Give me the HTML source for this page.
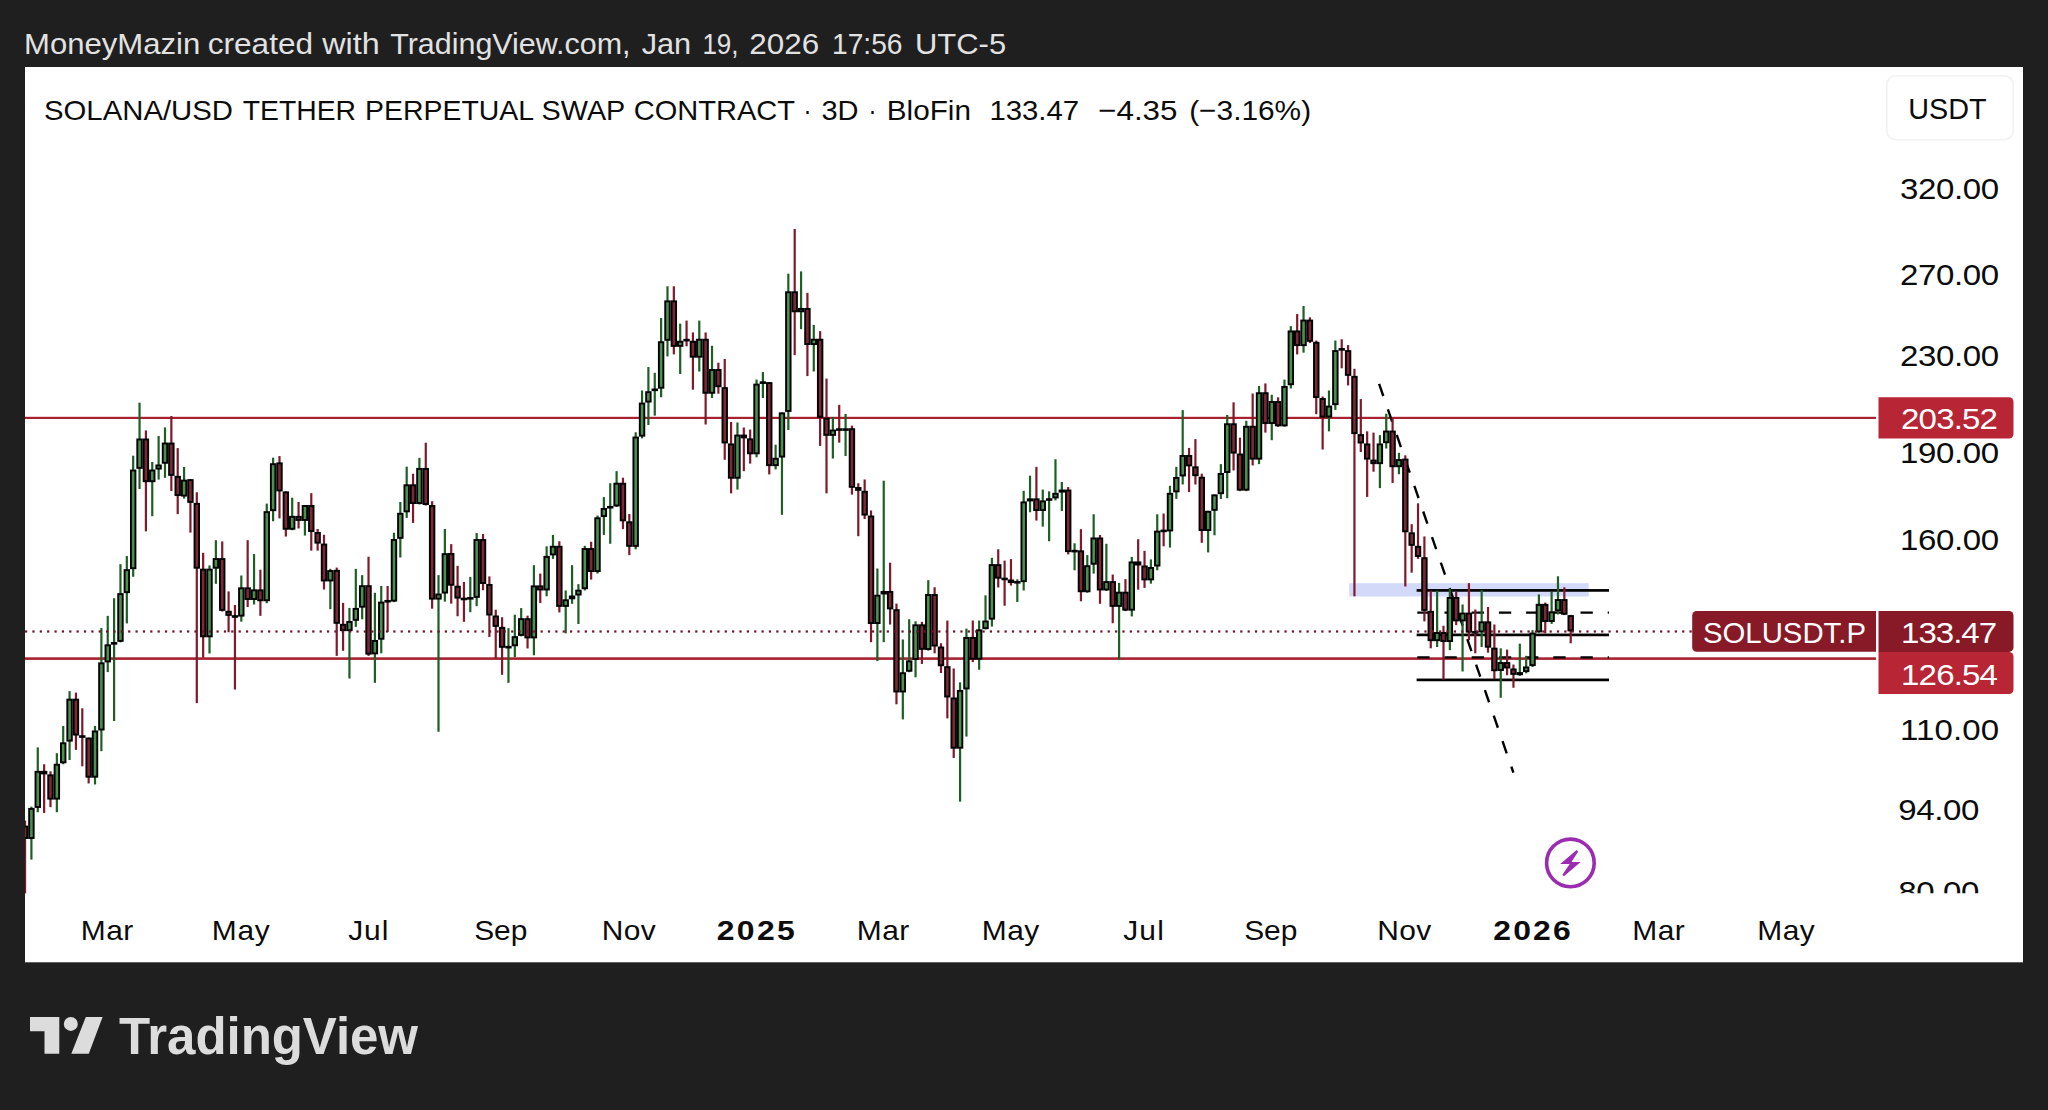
<!DOCTYPE html>
<html lang="en"><head><meta charset="utf-8"><title>SOLUSDT.P chart</title>
<style>html,body{margin:0;padding:0;background:#1f1f1f;}body{width:2048px;height:1110px;overflow:hidden;position:relative;font-family:"Liberation Sans",sans-serif;}svg{position:absolute;left:0;top:0;display:block;}text{font-family:"Liberation Sans",sans-serif;}</style>
</head><body>
<svg width="2048" height="1110" viewBox="0 0 2048 1110">
<defs><clipPath id="pane"><rect x="25" y="67" width="1998" height="826.5"/></clipPath>
<clipPath id="axis"><rect x="1878" y="67" width="145" height="826.3"/></clipPath></defs>
<rect x="0" y="0" width="2048" height="1110" fill="#1f1f1f"/>
<rect x="25" y="67" width="1998" height="895.3" fill="#ffffff"/>
<text y="54.3" font-size="29" fill="#e2e2e2">
<tspan x="24" textLength="176.2" lengthAdjust="spacingAndGlyphs">MoneyMazin</tspan> <tspan x="207.8" textLength="105.2" lengthAdjust="spacingAndGlyphs">created</tspan> <tspan x="322.3" textLength="57.4" lengthAdjust="spacingAndGlyphs">with</tspan> <tspan x="390.2" textLength="240.4" lengthAdjust="spacingAndGlyphs">TradingView.com,</tspan> <tspan x="641.7" textLength="49.5" lengthAdjust="spacingAndGlyphs">Jan</tspan> <tspan x="702.4" textLength="36.2" lengthAdjust="spacingAndGlyphs">19,</tspan> <tspan x="749.3" textLength="69.9" lengthAdjust="spacingAndGlyphs">2026</tspan> <tspan x="832" textLength="70.5" lengthAdjust="spacingAndGlyphs">17:56</tspan> <tspan x="915" textLength="91.1" lengthAdjust="spacingAndGlyphs">UTC-5</tspan>
</text>
<text y="120" font-size="28.5" fill="#0c0c0c">
<tspan x="44" textLength="189" lengthAdjust="spacingAndGlyphs">SOLANA/USD</tspan> <tspan x="242.8" textLength="113.2" lengthAdjust="spacingAndGlyphs">TETHER</tspan> <tspan x="365" textLength="168" lengthAdjust="spacingAndGlyphs">PERPETUAL</tspan> <tspan x="541.6" textLength="83.2" lengthAdjust="spacingAndGlyphs">SWAP</tspan> <tspan x="633.8" textLength="160.7" lengthAdjust="spacingAndGlyphs">CONTRACT</tspan> <tspan x="803.5" textLength="8" lengthAdjust="spacingAndGlyphs">·</tspan> <tspan x="821.4" textLength="37.1" lengthAdjust="spacingAndGlyphs">3D</tspan> <tspan x="868.5" textLength="8" lengthAdjust="spacingAndGlyphs">·</tspan> <tspan x="886.8" textLength="84.2" lengthAdjust="spacingAndGlyphs">BloFin</tspan> <tspan x="989.4" textLength="89.7" lengthAdjust="spacingAndGlyphs">133.47</tspan> <tspan x="1098.2" textLength="79.3" lengthAdjust="spacingAndGlyphs">−4.35</tspan> <tspan x="1189.2" textLength="121.9" lengthAdjust="spacingAndGlyphs">(−3.16%)</tspan>
</text>
<rect x="1886.8" y="75.8" width="126.5" height="64" rx="9" ry="9" fill="#ffffff" stroke="#f0f1f3" stroke-width="1.6"/>
<g font-size="29" fill="#0c0c0c">
<text transform="translate(1908.3,119.3) scale(1,1)" textLength="78.3" lengthAdjust="spacingAndGlyphs">USDT</text>
</g>
<g clip-path="url(#pane)">
<rect x="1349.2" y="583.2" width="239.5" height="13.3" fill="#d3daf9"/>
<rect x="25" y="416.8" width="1851" height="2.2" fill="#a8212f"/>
<rect x="25" y="657.3" width="1851" height="2.6" fill="#a8212f"/>
<rect x="1416.6" y="589.05" width="192.4" height="2.7" fill="#000"/>
<rect x="1416.6" y="633.55" width="192.4" height="2.7" fill="#000"/>
<rect x="1416.6" y="678.55" width="192.4" height="2.7" fill="#000"/>
<line x1="1417.3" y1="612.6" x2="1609" y2="612.6" stroke="#000" stroke-width="2.4" stroke-dasharray="12.3 14.9"/>
<line x1="1417.3" y1="657.4" x2="1609" y2="657.4" stroke="#000" stroke-width="2.4" stroke-dasharray="12.3 14.9"/>
<line x1="1379.1" y1="383.9" x2="1513.4" y2="772.6" stroke="#000" stroke-width="2.4" stroke-dasharray="12.8 14.2"/>
<g><rect x="23.95" y="820.54" width="2.2" height="73.15" fill="#80192b"/><rect x="30.31" y="806.67" width="2.2" height="52.97" fill="#1c6024"/><rect x="36.67" y="747.39" width="2.2" height="64.83" fill="#1c6024"/><rect x="43.03" y="764.29" width="2.2" height="48.68" fill="#80192b"/><rect x="49.39" y="771.35" width="2.2" height="35.82" fill="#80192b"/><rect x="55.75" y="753.19" width="2.2" height="59.03" fill="#1c6024"/><rect x="62.11" y="725.95" width="2.2" height="38.34" fill="#1c6024"/><rect x="68.47" y="691.14" width="2.2" height="68.86" fill="#1c6024"/><rect x="74.84" y="692.65" width="2.2" height="57.26" fill="#80192b"/><rect x="81.2" y="708.29" width="2.2" height="58.02" fill="#80192b"/><rect x="87.56" y="737.55" width="2.2" height="45.91" fill="#80192b"/><rect x="93.92" y="725.95" width="2.2" height="58.52" fill="#1c6024"/><rect x="100.28" y="628.07" width="2.2" height="123.1" fill="#1c6024"/><rect x="106.64" y="615.86" width="2.2" height="56.25" fill="#1c6024"/><rect x="113" y="598.2" width="2.2" height="122.85" fill="#1c6024"/><rect x="119.36" y="564.14" width="2.2" height="78.2" fill="#1c6024"/><rect x="125.72" y="556.07" width="2.2" height="67.35" fill="#1c6024"/><rect x="132.08" y="455.68" width="2.2" height="121.08" fill="#1c6024"/><rect x="138.44" y="402.7" width="2.2" height="86.27" fill="#1c6024"/><rect x="144.8" y="430.45" width="2.2" height="100.9" fill="#80192b"/><rect x="151.16" y="461.98" width="2.2" height="54.23" fill="#1c6024"/><rect x="157.52" y="436" width="2.2" height="43.64" fill="#1c6024"/><rect x="163.89" y="427.42" width="2.2" height="50.45" fill="#1c6024"/><rect x="170.25" y="416.07" width="2.2" height="74.92" fill="#80192b"/><rect x="176.61" y="448.11" width="2.2" height="66.09" fill="#80192b"/><rect x="182.97" y="467.03" width="2.2" height="31.53" fill="#1c6024"/><rect x="189.33" y="479.14" width="2.2" height="53.48" fill="#80192b"/><rect x="195.69" y="492.25" width="2.2" height="210.88" fill="#80192b"/><rect x="202.05" y="552.79" width="2.2" height="104.94" fill="#80192b"/><rect x="208.41" y="565.41" width="2.2" height="88.04" fill="#1c6024"/><rect x="214.77" y="540.18" width="2.2" height="43.64" fill="#1c6024"/><rect x="221.13" y="541.44" width="2.2" height="70.13" fill="#80192b"/><rect x="227.49" y="591.39" width="2.2" height="40.86" fill="#80192b"/><rect x="233.85" y="605.01" width="2.2" height="84.5" fill="#80192b"/><rect x="240.21" y="575.5" width="2.2" height="46.16" fill="#1c6024"/><rect x="246.57" y="540.18" width="2.2" height="66.85" fill="#80192b"/><rect x="252.94" y="554.05" width="2.2" height="50.45" fill="#1c6024"/><rect x="259.3" y="569.69" width="2.2" height="46.16" fill="#80192b"/><rect x="265.66" y="503.6" width="2.2" height="99.64" fill="#1c6024"/><rect x="272.02" y="457.69" width="2.2" height="63.57" fill="#1c6024"/><rect x="278.38" y="456.07" width="2.2" height="62.31" fill="#80192b"/><rect x="284.74" y="491.39" width="2.2" height="45.15" fill="#80192b"/><rect x="291.1" y="497.69" width="2.2" height="32.54" fill="#1c6024"/><rect x="297.46" y="501.98" width="2.2" height="26.49" fill="#80192b"/><rect x="303.82" y="505.01" width="2.2" height="30.52" fill="#1c6024"/><rect x="310.18" y="493.15" width="2.2" height="57.51" fill="#80192b"/><rect x="316.54" y="528.97" width="2.2" height="21.69" fill="#80192b"/><rect x="322.9" y="534.77" width="2.2" height="54.74" fill="#80192b"/><rect x="329.26" y="568.83" width="2.2" height="40.36" fill="#1c6024"/><rect x="335.62" y="567.57" width="2.2" height="88.29" fill="#80192b"/><rect x="341.98" y="602.88" width="2.2" height="47.93" fill="#80192b"/><rect x="348.35" y="607.93" width="2.2" height="70.63" fill="#1c6024"/><rect x="354.71" y="568.83" width="2.2" height="58.02" fill="#1c6024"/><rect x="361.07" y="575.14" width="2.2" height="44.14" fill="#1c6024"/><rect x="367.43" y="556.72" width="2.2" height="99.14" fill="#80192b"/><rect x="373.79" y="592.79" width="2.2" height="90.05" fill="#1c6024"/><rect x="380.15" y="585.98" width="2.2" height="67.35" fill="#1c6024"/><rect x="386.51" y="585.98" width="2.2" height="45.91" fill="#80192b"/><rect x="392.87" y="532.76" width="2.2" height="69.37" fill="#1c6024"/><rect x="399.23" y="501.98" width="2.2" height="55.5" fill="#1c6024"/><rect x="405.59" y="466.67" width="2.2" height="51.21" fill="#1c6024"/><rect x="411.95" y="473.73" width="2.2" height="49.19" fill="#80192b"/><rect x="418.31" y="457.84" width="2.2" height="46.67" fill="#1c6024"/><rect x="424.67" y="442.7" width="2.2" height="62.81" fill="#80192b"/><rect x="431.03" y="501.23" width="2.2" height="107.46" fill="#80192b"/><rect x="437.4" y="575.14" width="2.2" height="156.65" fill="#1c6024"/><rect x="443.76" y="528.97" width="2.2" height="72.65" fill="#1c6024"/><rect x="450.12" y="544.11" width="2.2" height="59.53" fill="#80192b"/><rect x="456.48" y="565.8" width="2.2" height="50.45" fill="#80192b"/><rect x="462.84" y="581.95" width="2.2" height="39.86" fill="#80192b"/><rect x="469.2" y="576.9" width="2.2" height="35.32" fill="#1c6024"/><rect x="475.56" y="533.01" width="2.2" height="73.15" fill="#1c6024"/><rect x="481.92" y="534.02" width="2.2" height="56.25" fill="#80192b"/><rect x="488.28" y="576.4" width="2.2" height="60.54" fill="#80192b"/><rect x="494.64" y="609.69" width="2.2" height="48.68" fill="#80192b"/><rect x="501" y="617.26" width="2.2" height="57.51" fill="#80192b"/><rect x="507.36" y="628.11" width="2.2" height="54.74" fill="#1c6024"/><rect x="513.72" y="614.74" width="2.2" height="42.38" fill="#1c6024"/><rect x="520.08" y="608.11" width="2.2" height="28.25" fill="#1c6024"/><rect x="526.45" y="615.68" width="2.2" height="32.79" fill="#80192b"/><rect x="532.81" y="565.23" width="2.2" height="90.05" fill="#1c6024"/><rect x="539.17" y="573.55" width="2.2" height="29.51" fill="#80192b"/><rect x="545.53" y="546.31" width="2.2" height="49.95" fill="#1c6024"/><rect x="551.89" y="534.95" width="2.2" height="23.96" fill="#1c6024"/><rect x="558.25" y="541.26" width="2.2" height="71.14" fill="#80192b"/><rect x="564.61" y="590.45" width="2.2" height="42.88" fill="#1c6024"/><rect x="570.97" y="565.23" width="2.2" height="38.59" fill="#1c6024"/><rect x="577.33" y="584.14" width="2.2" height="39.86" fill="#1c6024"/><rect x="583.69" y="545.8" width="2.2" height="44.65" fill="#1c6024"/><rect x="590.05" y="541.77" width="2.2" height="37.84" fill="#80192b"/><rect x="596.41" y="515.53" width="2.2" height="58.02" fill="#1c6024"/><rect x="602.77" y="497.12" width="2.2" height="37.84" fill="#1c6024"/><rect x="609.13" y="483.24" width="2.2" height="60.54" fill="#1c6024"/><rect x="615.5" y="471.14" width="2.2" height="35.82" fill="#1c6024"/><rect x="621.86" y="477.69" width="2.2" height="51.46" fill="#80192b"/><rect x="628.22" y="514.02" width="2.2" height="41.12" fill="#80192b"/><rect x="634.58" y="432.29" width="2.2" height="117.05" fill="#1c6024"/><rect x="640.94" y="390.45" width="2.2" height="47.93" fill="#1c6024"/><rect x="647.3" y="366.99" width="2.2" height="58.02" fill="#1c6024"/><rect x="653.66" y="372.79" width="2.2" height="42.88" fill="#1c6024"/><rect x="660.02" y="318.05" width="2.2" height="79.21" fill="#1c6024"/><rect x="666.38" y="286.27" width="2.2" height="70.13" fill="#1c6024"/><rect x="672.74" y="286.27" width="2.2" height="68.11" fill="#80192b"/><rect x="679.1" y="323.6" width="2.2" height="50.45" fill="#1c6024"/><rect x="685.46" y="320.58" width="2.2" height="25.73" fill="#80192b"/><rect x="691.82" y="332.43" width="2.2" height="57.26" fill="#80192b"/><rect x="698.18" y="320.58" width="2.2" height="50.95" fill="#1c6024"/><rect x="704.54" y="332.43" width="2.2" height="92.07" fill="#80192b"/><rect x="710.91" y="345.8" width="2.2" height="52.22" fill="#1c6024"/><rect x="717.27" y="362.7" width="2.2" height="31.03" fill="#80192b"/><rect x="723.63" y="358.92" width="2.2" height="100.9" fill="#80192b"/><rect x="729.99" y="421.98" width="2.2" height="71.39" fill="#80192b"/><rect x="736.35" y="422.49" width="2.2" height="67.1" fill="#1c6024"/><rect x="742.71" y="427.53" width="2.2" height="43.64" fill="#80192b"/><rect x="749.07" y="429.55" width="2.2" height="34.05" fill="#80192b"/><rect x="755.43" y="379.6" width="2.2" height="77.69" fill="#1c6024"/><rect x="761.79" y="372.04" width="2.2" height="25.98" fill="#1c6024"/><rect x="768.15" y="382.13" width="2.2" height="92.32" fill="#80192b"/><rect x="774.51" y="444.68" width="2.2" height="24.72" fill="#1c6024"/><rect x="780.87" y="412.4" width="2.2" height="102.41" fill="#1c6024"/><rect x="787.23" y="273.66" width="2.2" height="156.4" fill="#1c6024"/><rect x="793.59" y="229.01" width="2.2" height="126.13" fill="#80192b"/><rect x="799.96" y="271.39" width="2.2" height="57.77" fill="#1c6024"/><rect x="806.32" y="292.83" width="2.2" height="83.24" fill="#80192b"/><rect x="812.68" y="324.86" width="2.2" height="46.67" fill="#1c6024"/><rect x="819.04" y="331.17" width="2.2" height="114.77" fill="#80192b"/><rect x="825.4" y="378.59" width="2.2" height="114.77" fill="#80192b"/><rect x="831.76" y="416.94" width="2.2" height="41.62" fill="#1c6024"/><rect x="838.12" y="404.83" width="2.2" height="37.84" fill="#80192b"/><rect x="844.48" y="413.91" width="2.2" height="42.13" fill="#1c6024"/><rect x="850.84" y="425.73" width="2.2" height="68.86" fill="#80192b"/><rect x="857.2" y="483.24" width="2.2" height="52.97" fill="#80192b"/><rect x="863.56" y="479.46" width="2.2" height="39.6" fill="#80192b"/><rect x="869.92" y="510.49" width="2.2" height="131.68" fill="#80192b"/><rect x="876.28" y="568.5" width="2.2" height="92.58" fill="#1c6024"/><rect x="882.64" y="480.72" width="2.2" height="161.44" fill="#1c6024"/><rect x="889.01" y="562.7" width="2.2" height="61.8" fill="#80192b"/><rect x="895.37" y="603.64" width="2.2" height="100.65" fill="#80192b"/><rect x="901.73" y="639.46" width="2.2" height="79.96" fill="#1c6024"/><rect x="908.09" y="619.28" width="2.2" height="52.97" fill="#1c6024"/><rect x="914.45" y="621.3" width="2.2" height="56" fill="#1c6024"/><rect x="920.81" y="621.8" width="2.2" height="42.13" fill="#80192b"/><rect x="927.17" y="580.18" width="2.2" height="70.38" fill="#1c6024"/><rect x="933.53" y="587.24" width="2.2" height="66.09" fill="#80192b"/><rect x="939.89" y="643.24" width="2.2" height="29.77" fill="#80192b"/><rect x="946.25" y="620.54" width="2.2" height="97.87" fill="#80192b"/><rect x="952.61" y="668.47" width="2.2" height="89.55" fill="#80192b"/><rect x="958.97" y="682.34" width="2.2" height="119.32" fill="#1c6024"/><rect x="965.33" y="628.61" width="2.2" height="107.96" fill="#1c6024"/><rect x="971.69" y="620.54" width="2.2" height="41.62" fill="#80192b"/><rect x="978.05" y="620.54" width="2.2" height="49.19" fill="#1c6024"/><rect x="984.42" y="595.32" width="2.2" height="34.05" fill="#1c6024"/><rect x="990.78" y="557.83" width="2.2" height="68.73" fill="#1c6024"/><rect x="997.14" y="549.26" width="2.2" height="38.21" fill="#80192b"/><rect x="1003.5" y="560.61" width="2.2" height="45.15" fill="#80192b"/><rect x="1009.86" y="559.09" width="2.2" height="26.48" fill="#80192b"/><rect x="1016.22" y="579.27" width="2.2" height="22.7" fill="#1c6024"/><rect x="1022.58" y="490.81" width="2.2" height="99.64" fill="#1c6024"/><rect x="1028.94" y="475.68" width="2.2" height="36.58" fill="#1c6024"/><rect x="1035.3" y="466.85" width="2.2" height="53.73" fill="#80192b"/><rect x="1041.66" y="489.55" width="2.2" height="37.08" fill="#1c6024"/><rect x="1048.02" y="491.32" width="2.2" height="49.95" fill="#1c6024"/><rect x="1054.38" y="459.28" width="2.2" height="41.12" fill="#1c6024"/><rect x="1060.74" y="481.98" width="2.2" height="29.01" fill="#1c6024"/><rect x="1067.1" y="487.03" width="2.2" height="67.35" fill="#80192b"/><rect x="1073.47" y="543.28" width="2.2" height="26.99" fill="#1c6024"/><rect x="1079.83" y="529.15" width="2.2" height="72.14" fill="#80192b"/><rect x="1086.19" y="555.14" width="2.2" height="37.59" fill="#1c6024"/><rect x="1092.55" y="514.27" width="2.2" height="59.28" fill="#1c6024"/><rect x="1098.91" y="534.95" width="2.2" height="68.86" fill="#80192b"/><rect x="1105.27" y="543.78" width="2.2" height="47.17" fill="#1c6024"/><rect x="1111.63" y="574.56" width="2.2" height="48.68" fill="#80192b"/><rect x="1117.99" y="582.88" width="2.2" height="76.94" fill="#1c6024"/><rect x="1124.35" y="579.1" width="2.2" height="32.04" fill="#80192b"/><rect x="1130.71" y="556.9" width="2.2" height="59.53" fill="#1c6024"/><rect x="1137.07" y="539.24" width="2.2" height="50.45" fill="#80192b"/><rect x="1143.43" y="550.85" width="2.2" height="37.08" fill="#80192b"/><rect x="1149.79" y="559.42" width="2.2" height="24.22" fill="#1c6024"/><rect x="1156.15" y="514.27" width="2.2" height="56" fill="#1c6024"/><rect x="1162.52" y="513.51" width="2.2" height="32.79" fill="#80192b"/><rect x="1168.88" y="485.77" width="2.2" height="61.8" fill="#1c6024"/><rect x="1175.24" y="466.85" width="2.2" height="32.04" fill="#1c6024"/><rect x="1181.6" y="410.09" width="2.2" height="74.41" fill="#1c6024"/><rect x="1187.96" y="447.93" width="2.2" height="44.14" fill="#80192b"/><rect x="1194.32" y="439.1" width="2.2" height="45.41" fill="#80192b"/><rect x="1200.68" y="473.73" width="2.2" height="69.12" fill="#80192b"/><rect x="1207.04" y="510.81" width="2.2" height="41.62" fill="#1c6024"/><rect x="1213.4" y="494.41" width="2.2" height="40.86" fill="#1c6024"/><rect x="1219.76" y="464.14" width="2.2" height="34.81" fill="#1c6024"/><rect x="1226.12" y="414.95" width="2.2" height="83.24" fill="#1c6024"/><rect x="1232.48" y="402.34" width="2.2" height="68.11" fill="#80192b"/><rect x="1238.84" y="437.66" width="2.2" height="53.48" fill="#80192b"/><rect x="1245.2" y="420.76" width="2.2" height="70.38" fill="#1c6024"/><rect x="1251.57" y="393.51" width="2.2" height="71.89" fill="#80192b"/><rect x="1257.93" y="385.95" width="2.2" height="78.2" fill="#1c6024"/><rect x="1264.29" y="383.42" width="2.2" height="49.19" fill="#80192b"/><rect x="1270.65" y="394.77" width="2.2" height="45.41" fill="#1c6024"/><rect x="1277.01" y="397.3" width="2.2" height="29.51" fill="#80192b"/><rect x="1283.37" y="379.64" width="2.2" height="47.17" fill="#1c6024"/><rect x="1289.73" y="326.16" width="2.2" height="62.31" fill="#1c6024"/><rect x="1296.09" y="314.05" width="2.2" height="40.36" fill="#80192b"/><rect x="1302.45" y="305.98" width="2.2" height="46.67" fill="#1c6024"/><rect x="1308.81" y="317.33" width="2.2" height="25.73" fill="#80192b"/><rect x="1315.17" y="340.54" width="2.2" height="73.66" fill="#80192b"/><rect x="1321.53" y="396.54" width="2.2" height="52.97" fill="#80192b"/><rect x="1327.89" y="390.49" width="2.2" height="40.86" fill="#1c6024"/><rect x="1334.25" y="340.54" width="2.2" height="69.37" fill="#1c6024"/><rect x="1340.61" y="339.28" width="2.2" height="29.01" fill="#80192b"/><rect x="1346.98" y="345.08" width="2.2" height="40.36" fill="#80192b"/><rect x="1353.34" y="368.79" width="2.2" height="227.53" fill="#80192b"/><rect x="1359.7" y="399.06" width="2.2" height="52.97" fill="#80192b"/><rect x="1366.06" y="431.35" width="2.2" height="65.59" fill="#80192b"/><rect x="1372.42" y="432.61" width="2.2" height="39.1" fill="#80192b"/><rect x="1378.78" y="435.14" width="2.2" height="52.97" fill="#1c6024"/><rect x="1385.14" y="413.69" width="2.2" height="34.81" fill="#1c6024"/><rect x="1391.5" y="418.23" width="2.2" height="64.83" fill="#80192b"/><rect x="1397.86" y="452.79" width="2.2" height="21.44" fill="#1c6024"/><rect x="1404.22" y="455.32" width="2.2" height="131.17" fill="#80192b"/><rect x="1410.58" y="524.14" width="2.2" height="48.55" fill="#80192b"/><rect x="1416.94" y="503.33" width="2.2" height="55.49" fill="#80192b"/><rect x="1423.3" y="536.45" width="2.2" height="84.92" fill="#80192b"/><rect x="1429.66" y="590.68" width="2.2" height="57.61" fill="#80192b"/><rect x="1436.03" y="590.68" width="2.2" height="56.36" fill="#1c6024"/><rect x="1442.39" y="625.75" width="2.2" height="53.86" fill="#80192b"/><rect x="1448.75" y="588.81" width="2.2" height="61.37" fill="#1c6024"/><rect x="1455.11" y="591.94" width="2.2" height="33.19" fill="#80192b"/><rect x="1461.47" y="604.46" width="2.2" height="67.01" fill="#1c6024"/><rect x="1467.83" y="583.17" width="2.2" height="56.99" fill="#80192b"/><rect x="1474.19" y="609.47" width="2.2" height="43.84" fill="#80192b"/><rect x="1480.55" y="590.06" width="2.2" height="56.99" fill="#1c6024"/><rect x="1486.91" y="606.97" width="2.2" height="45.71" fill="#80192b"/><rect x="1493.27" y="624.5" width="2.2" height="54.48" fill="#80192b"/><rect x="1499.63" y="648.3" width="2.2" height="49.47" fill="#1c6024"/><rect x="1505.99" y="649.55" width="2.2" height="25.68" fill="#80192b"/><rect x="1512.35" y="664.58" width="2.2" height="23.17" fill="#80192b"/><rect x="1518.71" y="643.66" width="2.2" height="32.19" fill="#1c6024"/><rect x="1525.08" y="655.81" width="2.2" height="17.53" fill="#1c6024"/><rect x="1531.44" y="630.14" width="2.2" height="36.95" fill="#1c6024"/><rect x="1537.8" y="594.44" width="2.2" height="38.2" fill="#1c6024"/><rect x="1544.16" y="602.58" width="2.2" height="30.68" fill="#80192b"/><rect x="1550.52" y="591.94" width="2.2" height="31.94" fill="#1c6024"/><rect x="1556.88" y="576.28" width="2.2" height="38.2" fill="#1c6024"/><rect x="1563.24" y="587.3" width="2.2" height="27.8" fill="#80192b"/><rect x="1569.6" y="614.86" width="2.2" height="28.43" fill="#80192b"/></g>
<g><rect x="21.85" y="825.59" width="6.4" height="13.37" fill="#000"/><rect x="23.75" y="827.49" width="2.6" height="9.57" fill="#7e2737"/><rect x="28.21" y="807.93" width="6.4" height="31.03" fill="#000"/><rect x="30.11" y="809.83" width="2.6" height="27.23" fill="#4a9050"/><rect x="34.57" y="770.85" width="6.4" height="37.08" fill="#000"/><rect x="36.47" y="772.75" width="2.6" height="33.28" fill="#4a9050"/><rect x="40.93" y="770.85" width="6.4" height="3.53" fill="#000"/><rect x="47.29" y="774.38" width="6.4" height="25.23" fill="#000"/><rect x="49.19" y="776.28" width="2.6" height="21.43" fill="#7e2737"/><rect x="53.65" y="763.78" width="6.4" height="35.82" fill="#000"/><rect x="55.55" y="765.68" width="2.6" height="32.02" fill="#4a9050"/><rect x="60.01" y="742.34" width="6.4" height="20.94" fill="#000"/><rect x="61.91" y="744.24" width="2.6" height="17.14" fill="#4a9050"/><rect x="66.37" y="698.7" width="6.4" height="42.88" fill="#000"/><rect x="68.27" y="700.6" width="2.6" height="39.08" fill="#4a9050"/><rect x="72.74" y="698.7" width="6.4" height="36.83" fill="#000"/><rect x="74.64" y="700.6" width="2.6" height="33.03" fill="#7e2737"/><rect x="79.1" y="735.24" width="6.4" height="2.6" fill="#000"/><rect x="85.46" y="737.55" width="6.4" height="40.11" fill="#000"/><rect x="87.36" y="739.45" width="2.6" height="36.31" fill="#7e2737"/><rect x="91.82" y="730.49" width="6.4" height="47.17" fill="#000"/><rect x="93.72" y="732.39" width="2.6" height="43.37" fill="#4a9050"/><rect x="98.18" y="662.38" width="6.4" height="68.11" fill="#000"/><rect x="100.08" y="664.28" width="2.6" height="64.31" fill="#4a9050"/><rect x="104.54" y="644.36" width="6.4" height="18.04" fill="#000"/><rect x="106.44" y="646.26" width="2.6" height="14.24" fill="#4a9050"/><rect x="110.9" y="642.05" width="6.4" height="2.6" fill="#000"/><rect x="117.26" y="593.15" width="6.4" height="48.68" fill="#000"/><rect x="119.16" y="595.05" width="2.6" height="44.88" fill="#4a9050"/><rect x="123.62" y="569.19" width="6.4" height="23.96" fill="#000"/><rect x="125.52" y="571.09" width="2.6" height="20.16" fill="#4a9050"/><rect x="129.98" y="469.55" width="6.4" height="99.64" fill="#000"/><rect x="131.88" y="471.45" width="2.6" height="95.84" fill="#4a9050"/><rect x="136.34" y="438.52" width="6.4" height="30.27" fill="#000"/><rect x="138.24" y="440.42" width="2.6" height="26.47" fill="#4a9050"/><rect x="142.7" y="438.52" width="6.4" height="43.64" fill="#000"/><rect x="144.6" y="440.42" width="2.6" height="39.84" fill="#7e2737"/><rect x="149.06" y="469.55" width="6.4" height="12.61" fill="#000"/><rect x="150.96" y="471.45" width="2.6" height="8.81" fill="#4a9050"/><rect x="155.42" y="464.5" width="6.4" height="5.05" fill="#000"/><rect x="157.32" y="466.4" width="2.6" height="1.25" fill="#4a9050"/><rect x="161.79" y="442.56" width="6.4" height="21.19" fill="#000"/><rect x="163.69" y="444.46" width="2.6" height="17.39" fill="#4a9050"/><rect x="168.15" y="442.56" width="6.4" height="33.3" fill="#000"/><rect x="170.05" y="444.46" width="2.6" height="29.5" fill="#7e2737"/><rect x="174.51" y="475.86" width="6.4" height="20.18" fill="#000"/><rect x="176.41" y="477.76" width="2.6" height="16.38" fill="#7e2737"/><rect x="180.87" y="479.64" width="6.4" height="16.9" fill="#000"/><rect x="182.77" y="481.54" width="2.6" height="13.1" fill="#4a9050"/><rect x="187.23" y="479.14" width="6.4" height="23.71" fill="#000"/><rect x="189.13" y="481.04" width="2.6" height="19.91" fill="#7e2737"/><rect x="193.59" y="502.85" width="6.4" height="65.84" fill="#000"/><rect x="195.49" y="504.75" width="2.6" height="62.04" fill="#7e2737"/><rect x="199.95" y="568.68" width="6.4" height="68.61" fill="#000"/><rect x="201.85" y="570.58" width="2.6" height="64.81" fill="#7e2737"/><rect x="206.31" y="568.68" width="6.4" height="68.61" fill="#000"/><rect x="208.21" y="570.58" width="2.6" height="64.81" fill="#4a9050"/><rect x="212.67" y="558.09" width="6.4" height="10.59" fill="#000"/><rect x="214.57" y="559.99" width="2.6" height="6.79" fill="#4a9050"/><rect x="219.03" y="558.09" width="6.4" height="52.72" fill="#000"/><rect x="220.93" y="559.99" width="2.6" height="48.92" fill="#7e2737"/><rect x="225.39" y="610.81" width="6.4" height="5.05" fill="#000"/><rect x="227.29" y="612.71" width="2.6" height="1.25" fill="#7e2737"/><rect x="231.75" y="615.19" width="6.4" height="2.6" fill="#000"/><rect x="238.11" y="587.35" width="6.4" height="29.26" fill="#000"/><rect x="240.01" y="589.25" width="2.6" height="25.46" fill="#4a9050"/><rect x="244.47" y="587.35" width="6.4" height="12.61" fill="#000"/><rect x="246.37" y="589.25" width="2.6" height="8.81" fill="#7e2737"/><rect x="250.84" y="589.37" width="6.4" height="10.59" fill="#000"/><rect x="252.74" y="591.27" width="2.6" height="6.79" fill="#4a9050"/><rect x="257.2" y="589.37" width="6.4" height="11.86" fill="#000"/><rect x="259.1" y="591.27" width="2.6" height="8.06" fill="#7e2737"/><rect x="263.56" y="511.17" width="6.4" height="90.05" fill="#000"/><rect x="265.46" y="513.07" width="2.6" height="86.25" fill="#4a9050"/><rect x="269.92" y="463.24" width="6.4" height="47.93" fill="#000"/><rect x="271.82" y="465.14" width="2.6" height="44.13" fill="#4a9050"/><rect x="276.28" y="462.38" width="6.4" height="29.01" fill="#000"/><rect x="278.18" y="464.28" width="2.6" height="25.21" fill="#7e2737"/><rect x="282.64" y="491.39" width="6.4" height="38.34" fill="#000"/><rect x="284.54" y="493.29" width="2.6" height="34.54" fill="#7e2737"/><rect x="289" y="515.86" width="6.4" height="13.87" fill="#000"/><rect x="290.9" y="517.76" width="2.6" height="10.07" fill="#4a9050"/><rect x="295.36" y="515.86" width="6.4" height="5.05" fill="#000"/><rect x="297.26" y="517.76" width="2.6" height="1.25" fill="#7e2737"/><rect x="301.72" y="505.01" width="6.4" height="15.89" fill="#000"/><rect x="303.62" y="506.91" width="2.6" height="12.09" fill="#4a9050"/><rect x="308.08" y="505.01" width="6.4" height="26.99" fill="#000"/><rect x="309.98" y="506.91" width="2.6" height="23.19" fill="#7e2737"/><rect x="314.44" y="532" width="6.4" height="11.6" fill="#000"/><rect x="316.34" y="533.9" width="2.6" height="7.8" fill="#7e2737"/><rect x="320.8" y="543.6" width="6.4" height="37.84" fill="#000"/><rect x="322.7" y="545.5" width="2.6" height="34.04" fill="#7e2737"/><rect x="327.16" y="570.09" width="6.4" height="11.35" fill="#000"/><rect x="329.06" y="571.99" width="2.6" height="7.55" fill="#4a9050"/><rect x="333.52" y="569.84" width="6.4" height="53.98" fill="#000"/><rect x="335.42" y="571.74" width="2.6" height="50.18" fill="#7e2737"/><rect x="339.88" y="623.82" width="6.4" height="7.32" fill="#000"/><rect x="341.78" y="625.72" width="2.6" height="3.52" fill="#7e2737"/><rect x="346.25" y="621.05" width="6.4" height="10.09" fill="#000"/><rect x="348.15" y="622.95" width="2.6" height="6.29" fill="#4a9050"/><rect x="352.61" y="607.93" width="6.4" height="12.86" fill="#000"/><rect x="354.51" y="609.83" width="2.6" height="9.06" fill="#4a9050"/><rect x="358.97" y="585.23" width="6.4" height="22.45" fill="#000"/><rect x="360.87" y="587.13" width="2.6" height="18.65" fill="#4a9050"/><rect x="365.33" y="585.23" width="6.4" height="69.37" fill="#000"/><rect x="367.23" y="587.13" width="2.6" height="65.57" fill="#7e2737"/><rect x="371.69" y="639.96" width="6.4" height="14.38" fill="#000"/><rect x="373.59" y="641.86" width="2.6" height="10.58" fill="#4a9050"/><rect x="378.05" y="601.62" width="6.4" height="38.09" fill="#000"/><rect x="379.95" y="603.52" width="2.6" height="34.29" fill="#4a9050"/><rect x="384.41" y="599.94" width="6.4" height="2.6" fill="#000"/><rect x="390.77" y="539.06" width="6.4" height="62.56" fill="#000"/><rect x="392.67" y="540.96" width="2.6" height="58.76" fill="#4a9050"/><rect x="397.13" y="512.83" width="6.4" height="25.98" fill="#000"/><rect x="399.03" y="514.73" width="2.6" height="22.18" fill="#4a9050"/><rect x="403.49" y="484.32" width="6.4" height="28" fill="#000"/><rect x="405.39" y="486.22" width="2.6" height="24.2" fill="#4a9050"/><rect x="409.85" y="484.32" width="6.4" height="19.68" fill="#000"/><rect x="411.75" y="486.22" width="2.6" height="15.88" fill="#7e2737"/><rect x="416.21" y="467.93" width="6.4" height="36.07" fill="#000"/><rect x="418.11" y="469.83" width="2.6" height="32.27" fill="#4a9050"/><rect x="422.57" y="467.93" width="6.4" height="37.08" fill="#000"/><rect x="424.47" y="469.83" width="2.6" height="33.28" fill="#7e2737"/><rect x="428.93" y="505.01" width="6.4" height="94.59" fill="#000"/><rect x="430.83" y="506.91" width="2.6" height="90.79" fill="#7e2737"/><rect x="435.3" y="593.55" width="6.4" height="6.05" fill="#000"/><rect x="437.2" y="595.45" width="2.6" height="2.25" fill="#4a9050"/><rect x="441.66" y="553.19" width="6.4" height="40.36" fill="#000"/><rect x="443.56" y="555.09" width="2.6" height="36.56" fill="#4a9050"/><rect x="448.02" y="552.94" width="6.4" height="32.79" fill="#000"/><rect x="449.92" y="554.84" width="2.6" height="28.99" fill="#7e2737"/><rect x="454.38" y="585.73" width="6.4" height="12.86" fill="#000"/><rect x="456.28" y="587.63" width="2.6" height="9.06" fill="#7e2737"/><rect x="460.74" y="597.67" width="6.4" height="2.6" fill="#000"/><rect x="467.1" y="597.04" width="6.4" height="2.6" fill="#000"/><rect x="473.46" y="539.06" width="6.4" height="58.77" fill="#000"/><rect x="475.36" y="540.96" width="2.6" height="54.97" fill="#4a9050"/><rect x="479.82" y="539.06" width="6.4" height="44.9" fill="#000"/><rect x="481.72" y="540.96" width="2.6" height="41.1" fill="#7e2737"/><rect x="486.18" y="583.96" width="6.4" height="31.53" fill="#000"/><rect x="488.08" y="585.86" width="2.6" height="27.73" fill="#7e2737"/><rect x="492.54" y="615.5" width="6.4" height="11.35" fill="#000"/><rect x="494.44" y="617.4" width="2.6" height="7.55" fill="#7e2737"/><rect x="498.9" y="626.85" width="6.4" height="20.94" fill="#000"/><rect x="500.8" y="628.75" width="2.6" height="17.14" fill="#7e2737"/><rect x="505.26" y="645.85" width="6.4" height="2.6" fill="#000"/><rect x="511.62" y="636.18" width="6.4" height="10.09" fill="#000"/><rect x="513.52" y="638.08" width="2.6" height="6.29" fill="#4a9050"/><rect x="517.98" y="618.2" width="6.4" height="17.66" fill="#000"/><rect x="519.88" y="620.1" width="2.6" height="13.86" fill="#4a9050"/><rect x="524.35" y="618.2" width="6.4" height="20.18" fill="#000"/><rect x="526.25" y="620.1" width="2.6" height="16.38" fill="#7e2737"/><rect x="530.71" y="585.41" width="6.4" height="52.97" fill="#000"/><rect x="532.61" y="587.31" width="2.6" height="49.17" fill="#4a9050"/><rect x="537.07" y="585.41" width="6.4" height="5.05" fill="#000"/><rect x="538.97" y="587.31" width="2.6" height="1.25" fill="#7e2737"/><rect x="543.43" y="555.89" width="6.4" height="34.56" fill="#000"/><rect x="545.33" y="557.79" width="2.6" height="30.76" fill="#4a9050"/><rect x="549.79" y="545.8" width="6.4" height="9.59" fill="#000"/><rect x="551.69" y="547.7" width="2.6" height="5.79" fill="#4a9050"/><rect x="556.15" y="545.8" width="6.4" height="61.05" fill="#000"/><rect x="558.05" y="547.7" width="2.6" height="57.25" fill="#7e2737"/><rect x="562.51" y="599.28" width="6.4" height="7.57" fill="#000"/><rect x="564.41" y="601.18" width="2.6" height="3.77" fill="#4a9050"/><rect x="568.87" y="595.5" width="6.4" height="3.78" fill="#000"/><rect x="575.23" y="589.69" width="6.4" height="5.8" fill="#000"/><rect x="577.13" y="591.59" width="2.6" height="2" fill="#4a9050"/><rect x="581.59" y="548.07" width="6.4" height="41.12" fill="#000"/><rect x="583.49" y="549.97" width="2.6" height="37.32" fill="#4a9050"/><rect x="587.95" y="548.07" width="6.4" height="23.96" fill="#000"/><rect x="589.85" y="549.97" width="2.6" height="20.16" fill="#7e2737"/><rect x="594.31" y="517.3" width="6.4" height="54.74" fill="#000"/><rect x="596.21" y="519.2" width="2.6" height="50.94" fill="#4a9050"/><rect x="600.67" y="507.96" width="6.4" height="9.08" fill="#000"/><rect x="602.57" y="509.86" width="2.6" height="5.28" fill="#4a9050"/><rect x="607.03" y="505.91" width="6.4" height="2.6" fill="#000"/><rect x="613.4" y="482.74" width="6.4" height="23.71" fill="#000"/><rect x="615.3" y="484.64" width="2.6" height="19.91" fill="#4a9050"/><rect x="619.76" y="482.74" width="6.4" height="38.59" fill="#000"/><rect x="621.66" y="484.64" width="2.6" height="34.79" fill="#7e2737"/><rect x="626.12" y="521.33" width="6.4" height="25.48" fill="#000"/><rect x="628.02" y="523.23" width="2.6" height="21.68" fill="#7e2737"/><rect x="632.48" y="436.58" width="6.4" height="110.23" fill="#000"/><rect x="634.38" y="438.48" width="2.6" height="106.43" fill="#4a9050"/><rect x="638.84" y="402.56" width="6.4" height="34.05" fill="#000"/><rect x="640.74" y="404.46" width="2.6" height="30.25" fill="#4a9050"/><rect x="645.2" y="391.21" width="6.4" height="11.35" fill="#000"/><rect x="647.1" y="393.11" width="2.6" height="7.55" fill="#4a9050"/><rect x="651.56" y="388.52" width="6.4" height="2.6" fill="#000"/><rect x="657.92" y="341.26" width="6.4" height="47.42" fill="#000"/><rect x="659.82" y="343.16" width="2.6" height="43.62" fill="#4a9050"/><rect x="664.28" y="300.4" width="6.4" height="40.36" fill="#000"/><rect x="666.18" y="302.3" width="2.6" height="36.56" fill="#4a9050"/><rect x="670.64" y="300.4" width="6.4" height="46.41" fill="#000"/><rect x="672.54" y="302.3" width="2.6" height="42.61" fill="#7e2737"/><rect x="677" y="340.76" width="6.4" height="6.05" fill="#000"/><rect x="678.9" y="342.66" width="2.6" height="2.25" fill="#4a9050"/><rect x="683.36" y="338.83" width="6.4" height="2.6" fill="#000"/><rect x="689.72" y="340.76" width="6.4" height="16.9" fill="#000"/><rect x="691.62" y="342.66" width="2.6" height="13.1" fill="#7e2737"/><rect x="696.08" y="338.74" width="6.4" height="18.92" fill="#000"/><rect x="697.98" y="340.64" width="2.6" height="15.12" fill="#4a9050"/><rect x="702.44" y="338.74" width="6.4" height="54.99" fill="#000"/><rect x="704.34" y="340.64" width="2.6" height="51.19" fill="#7e2737"/><rect x="708.81" y="369.01" width="6.4" height="24.72" fill="#000"/><rect x="710.71" y="370.91" width="2.6" height="20.92" fill="#4a9050"/><rect x="715.17" y="369.01" width="6.4" height="18.16" fill="#000"/><rect x="717.07" y="370.91" width="2.6" height="14.36" fill="#7e2737"/><rect x="721.53" y="387.17" width="6.4" height="56.25" fill="#000"/><rect x="723.43" y="389.07" width="2.6" height="52.45" fill="#7e2737"/><rect x="727.89" y="443.42" width="6.4" height="35.32" fill="#000"/><rect x="729.79" y="445.32" width="2.6" height="31.52" fill="#7e2737"/><rect x="734.25" y="434.59" width="6.4" height="44.14" fill="#000"/><rect x="736.15" y="436.49" width="2.6" height="40.34" fill="#4a9050"/><rect x="740.61" y="434.59" width="6.4" height="3.78" fill="#000"/><rect x="746.97" y="438.38" width="6.4" height="15.89" fill="#000"/><rect x="748.87" y="440.28" width="2.6" height="12.09" fill="#7e2737"/><rect x="753.33" y="383.64" width="6.4" height="70.63" fill="#000"/><rect x="755.23" y="385.54" width="2.6" height="66.83" fill="#4a9050"/><rect x="759.69" y="381.33" width="6.4" height="2.6" fill="#000"/><rect x="766.05" y="382.13" width="6.4" height="84" fill="#000"/><rect x="767.95" y="384.03" width="2.6" height="80.2" fill="#7e2737"/><rect x="772.41" y="457.8" width="6.4" height="8.32" fill="#000"/><rect x="774.31" y="459.7" width="2.6" height="4.52" fill="#4a9050"/><rect x="778.77" y="412.4" width="6.4" height="45.15" fill="#000"/><rect x="780.67" y="414.3" width="2.6" height="41.35" fill="#4a9050"/><rect x="785.13" y="291.32" width="6.4" height="120.58" fill="#000"/><rect x="787.03" y="293.22" width="2.6" height="116.78" fill="#4a9050"/><rect x="791.49" y="291.32" width="6.4" height="20.94" fill="#000"/><rect x="793.39" y="293.22" width="2.6" height="17.14" fill="#7e2737"/><rect x="797.86" y="307.96" width="6.4" height="4.29" fill="#000"/><rect x="799.76" y="309.86" width="2.6" height="0.49" fill="#4a9050"/><rect x="804.22" y="307.96" width="6.4" height="37.08" fill="#000"/><rect x="806.12" y="309.86" width="2.6" height="33.28" fill="#7e2737"/><rect x="810.58" y="338.74" width="6.4" height="6.31" fill="#000"/><rect x="812.48" y="340.64" width="2.6" height="2.51" fill="#4a9050"/><rect x="816.94" y="338.74" width="6.4" height="78.95" fill="#000"/><rect x="818.84" y="340.64" width="2.6" height="75.15" fill="#7e2737"/><rect x="823.3" y="417.69" width="6.4" height="18.16" fill="#000"/><rect x="825.2" y="419.59" width="2.6" height="14.36" fill="#7e2737"/><rect x="829.66" y="429.55" width="6.4" height="6.31" fill="#000"/><rect x="831.56" y="431.45" width="2.6" height="2.51" fill="#4a9050"/><rect x="836.02" y="428.25" width="6.4" height="2.6" fill="#000"/><rect x="842.38" y="428.25" width="6.4" height="2.6" fill="#000"/><rect x="848.74" y="428.25" width="6.4" height="59.53" fill="#000"/><rect x="850.64" y="430.15" width="2.6" height="55.73" fill="#7e2737"/><rect x="855.1" y="487.03" width="6.4" height="3.78" fill="#000"/><rect x="861.46" y="490.81" width="6.4" height="24.72" fill="#000"/><rect x="863.36" y="492.71" width="2.6" height="20.92" fill="#7e2737"/><rect x="867.82" y="515.53" width="6.4" height="108.47" fill="#000"/><rect x="869.72" y="517.43" width="2.6" height="104.67" fill="#7e2737"/><rect x="874.18" y="594.74" width="6.4" height="29.26" fill="#000"/><rect x="876.08" y="596.64" width="2.6" height="25.46" fill="#4a9050"/><rect x="880.54" y="590.95" width="6.4" height="3.53" fill="#000"/><rect x="886.91" y="590.95" width="6.4" height="18.41" fill="#000"/><rect x="888.81" y="592.85" width="2.6" height="14.61" fill="#7e2737"/><rect x="893.27" y="609.19" width="6.4" height="83.24" fill="#000"/><rect x="895.17" y="611.09" width="2.6" height="79.44" fill="#7e2737"/><rect x="899.63" y="672.25" width="6.4" height="20.18" fill="#000"/><rect x="901.53" y="674.15" width="2.6" height="16.38" fill="#4a9050"/><rect x="905.99" y="660.4" width="6.4" height="11.35" fill="#000"/><rect x="907.89" y="662.3" width="2.6" height="7.55" fill="#4a9050"/><rect x="912.35" y="624.32" width="6.4" height="35.57" fill="#000"/><rect x="914.25" y="626.22" width="2.6" height="31.77" fill="#4a9050"/><rect x="918.71" y="624.32" width="6.4" height="25.48" fill="#000"/><rect x="920.61" y="626.22" width="2.6" height="21.68" fill="#7e2737"/><rect x="925.07" y="594.05" width="6.4" height="56" fill="#000"/><rect x="926.97" y="595.95" width="2.6" height="52.2" fill="#4a9050"/><rect x="931.43" y="594.05" width="6.4" height="52.47" fill="#000"/><rect x="933.33" y="595.95" width="2.6" height="48.67" fill="#7e2737"/><rect x="937.79" y="646.52" width="6.4" height="19.68" fill="#000"/><rect x="939.69" y="648.42" width="2.6" height="15.88" fill="#7e2737"/><rect x="944.15" y="666.2" width="6.4" height="31.28" fill="#000"/><rect x="946.05" y="668.1" width="2.6" height="27.48" fill="#7e2737"/><rect x="950.51" y="697.48" width="6.4" height="51.21" fill="#000"/><rect x="952.41" y="699.38" width="2.6" height="47.41" fill="#7e2737"/><rect x="956.87" y="689.91" width="6.4" height="58.77" fill="#000"/><rect x="958.77" y="691.81" width="2.6" height="54.97" fill="#4a9050"/><rect x="963.23" y="636.94" width="6.4" height="52.47" fill="#000"/><rect x="965.13" y="638.84" width="2.6" height="48.67" fill="#4a9050"/><rect x="969.59" y="636.94" width="6.4" height="22.7" fill="#000"/><rect x="971.49" y="638.84" width="2.6" height="18.9" fill="#7e2737"/><rect x="975.95" y="629.37" width="6.4" height="30.27" fill="#000"/><rect x="977.85" y="631.27" width="2.6" height="26.47" fill="#4a9050"/><rect x="982.32" y="620.54" width="6.4" height="8.58" fill="#000"/><rect x="984.22" y="622.44" width="2.6" height="4.78" fill="#4a9050"/><rect x="988.68" y="564.14" width="6.4" height="55.49" fill="#000"/><rect x="990.58" y="566.04" width="2.6" height="51.69" fill="#4a9050"/><rect x="995.04" y="564.14" width="6.4" height="14.5" fill="#000"/><rect x="996.94" y="566.04" width="2.6" height="10.7" fill="#7e2737"/><rect x="1001.4" y="577.66" width="6.4" height="2.6" fill="#000"/><rect x="1007.76" y="579.52" width="6.4" height="3.53" fill="#000"/><rect x="1014.12" y="581" width="6.4" height="2.6" fill="#000"/><rect x="1020.48" y="501.41" width="6.4" height="80.72" fill="#000"/><rect x="1022.38" y="503.31" width="2.6" height="76.92" fill="#4a9050"/><rect x="1026.84" y="498.38" width="6.4" height="3.03" fill="#000"/><rect x="1033.2" y="498.38" width="6.4" height="12.61" fill="#000"/><rect x="1035.1" y="500.28" width="2.6" height="8.81" fill="#7e2737"/><rect x="1039.56" y="500.4" width="6.4" height="10.59" fill="#000"/><rect x="1041.46" y="502.3" width="2.6" height="6.79" fill="#4a9050"/><rect x="1045.92" y="498.21" width="6.4" height="2.6" fill="#000"/><rect x="1052.28" y="492.83" width="6.4" height="5.55" fill="#000"/><rect x="1054.18" y="494.73" width="2.6" height="1.75" fill="#4a9050"/><rect x="1058.64" y="489.55" width="6.4" height="3.03" fill="#000"/><rect x="1065" y="489.55" width="6.4" height="62.56" fill="#000"/><rect x="1066.9" y="491.45" width="2.6" height="58.76" fill="#7e2737"/><rect x="1071.37" y="549.8" width="6.4" height="2.6" fill="#000"/><rect x="1077.73" y="550.34" width="6.4" height="41.87" fill="#000"/><rect x="1079.63" y="552.24" width="2.6" height="38.07" fill="#7e2737"/><rect x="1084.09" y="565.23" width="6.4" height="26.99" fill="#000"/><rect x="1085.99" y="567.13" width="2.6" height="23.19" fill="#4a9050"/><rect x="1090.45" y="537.48" width="6.4" height="27.24" fill="#000"/><rect x="1092.35" y="539.38" width="2.6" height="23.44" fill="#4a9050"/><rect x="1096.81" y="537.48" width="6.4" height="52.97" fill="#000"/><rect x="1098.71" y="539.38" width="2.6" height="49.17" fill="#7e2737"/><rect x="1103.17" y="581.12" width="6.4" height="9.33" fill="#000"/><rect x="1105.07" y="583.02" width="2.6" height="5.53" fill="#4a9050"/><rect x="1109.53" y="581.12" width="6.4" height="25.73" fill="#000"/><rect x="1111.43" y="583.02" width="2.6" height="21.93" fill="#7e2737"/><rect x="1115.89" y="591.71" width="6.4" height="15.14" fill="#000"/><rect x="1117.79" y="593.61" width="2.6" height="11.34" fill="#4a9050"/><rect x="1122.25" y="591.71" width="6.4" height="18.92" fill="#000"/><rect x="1124.15" y="593.61" width="2.6" height="15.12" fill="#7e2737"/><rect x="1128.61" y="561.44" width="6.4" height="49.19" fill="#000"/><rect x="1130.51" y="563.34" width="2.6" height="45.39" fill="#4a9050"/><rect x="1134.97" y="561.44" width="6.4" height="4.04" fill="#000"/><rect x="1141.33" y="565.48" width="6.4" height="14.88" fill="#000"/><rect x="1143.23" y="567.38" width="2.6" height="11.08" fill="#7e2737"/><rect x="1147.69" y="566.99" width="6.4" height="13.37" fill="#000"/><rect x="1149.59" y="568.89" width="2.6" height="9.57" fill="#4a9050"/><rect x="1154.05" y="530.67" width="6.4" height="35.82" fill="#000"/><rect x="1155.95" y="532.57" width="2.6" height="32.02" fill="#4a9050"/><rect x="1160.42" y="529.62" width="6.4" height="2.6" fill="#000"/><rect x="1166.78" y="492.83" width="6.4" height="38.59" fill="#000"/><rect x="1168.68" y="494.73" width="2.6" height="34.79" fill="#4a9050"/><rect x="1173.14" y="476.94" width="6.4" height="15.39" fill="#000"/><rect x="1175.04" y="478.84" width="2.6" height="11.59" fill="#4a9050"/><rect x="1179.5" y="454.99" width="6.4" height="21.44" fill="#000"/><rect x="1181.4" y="456.89" width="2.6" height="17.64" fill="#4a9050"/><rect x="1185.86" y="454.99" width="6.4" height="11.35" fill="#000"/><rect x="1187.76" y="456.89" width="2.6" height="7.55" fill="#7e2737"/><rect x="1192.22" y="466.34" width="6.4" height="9.84" fill="#000"/><rect x="1194.12" y="468.24" width="2.6" height="6.04" fill="#7e2737"/><rect x="1198.58" y="476.76" width="6.4" height="54.23" fill="#000"/><rect x="1200.48" y="478.66" width="2.6" height="50.43" fill="#7e2737"/><rect x="1204.94" y="510.81" width="6.4" height="20.18" fill="#000"/><rect x="1206.84" y="512.71" width="2.6" height="16.38" fill="#4a9050"/><rect x="1211.3" y="494.41" width="6.4" height="16.4" fill="#000"/><rect x="1213.2" y="496.31" width="2.6" height="12.6" fill="#4a9050"/><rect x="1217.66" y="472.97" width="6.4" height="21.19" fill="#000"/><rect x="1219.56" y="474.87" width="2.6" height="17.39" fill="#4a9050"/><rect x="1224.02" y="423.28" width="6.4" height="49.69" fill="#000"/><rect x="1225.92" y="425.18" width="2.6" height="45.89" fill="#4a9050"/><rect x="1230.38" y="423.28" width="6.4" height="30.27" fill="#000"/><rect x="1232.28" y="425.18" width="2.6" height="26.47" fill="#7e2737"/><rect x="1236.74" y="453.55" width="6.4" height="37.08" fill="#000"/><rect x="1238.64" y="455.45" width="2.6" height="33.28" fill="#7e2737"/><rect x="1243.1" y="425.8" width="6.4" height="64.83" fill="#000"/><rect x="1245" y="427.7" width="2.6" height="61.03" fill="#4a9050"/><rect x="1249.47" y="425.8" width="6.4" height="33.8" fill="#000"/><rect x="1251.37" y="427.7" width="2.6" height="30" fill="#7e2737"/><rect x="1255.83" y="392.25" width="6.4" height="67.35" fill="#000"/><rect x="1257.73" y="394.15" width="2.6" height="63.55" fill="#4a9050"/><rect x="1262.19" y="392.25" width="6.4" height="31.78" fill="#000"/><rect x="1264.09" y="394.15" width="2.6" height="27.98" fill="#7e2737"/><rect x="1268.55" y="401.08" width="6.4" height="22.95" fill="#000"/><rect x="1270.45" y="402.98" width="2.6" height="19.15" fill="#4a9050"/><rect x="1274.91" y="401.08" width="6.4" height="25.23" fill="#000"/><rect x="1276.81" y="402.98" width="2.6" height="21.43" fill="#7e2737"/><rect x="1281.27" y="385.95" width="6.4" height="40.36" fill="#000"/><rect x="1283.17" y="387.85" width="2.6" height="36.56" fill="#4a9050"/><rect x="1287.63" y="330.45" width="6.4" height="54.74" fill="#000"/><rect x="1289.53" y="332.35" width="2.6" height="50.94" fill="#4a9050"/><rect x="1293.99" y="330.45" width="6.4" height="15.64" fill="#000"/><rect x="1295.89" y="332.35" width="2.6" height="11.84" fill="#7e2737"/><rect x="1300.35" y="319.6" width="6.4" height="26.49" fill="#000"/><rect x="1302.25" y="321.5" width="2.6" height="22.69" fill="#4a9050"/><rect x="1306.71" y="319.6" width="6.4" height="22.2" fill="#000"/><rect x="1308.61" y="321.5" width="2.6" height="18.4" fill="#7e2737"/><rect x="1313.07" y="341.8" width="6.4" height="56.25" fill="#000"/><rect x="1314.97" y="343.7" width="2.6" height="52.45" fill="#7e2737"/><rect x="1319.43" y="398.05" width="6.4" height="19.42" fill="#000"/><rect x="1321.33" y="399.95" width="2.6" height="15.62" fill="#7e2737"/><rect x="1325.79" y="405.62" width="6.4" height="11.86" fill="#000"/><rect x="1327.69" y="407.52" width="2.6" height="8.06" fill="#4a9050"/><rect x="1332.15" y="350.13" width="6.4" height="54.99" fill="#000"/><rect x="1334.05" y="352.03" width="2.6" height="51.19" fill="#4a9050"/><rect x="1338.51" y="348.07" width="6.4" height="2.6" fill="#000"/><rect x="1344.88" y="350.13" width="6.4" height="25.73" fill="#000"/><rect x="1346.78" y="352.03" width="2.6" height="21.93" fill="#7e2737"/><rect x="1351.24" y="375.86" width="6.4" height="58.27" fill="#000"/><rect x="1353.14" y="377.76" width="2.6" height="54.47" fill="#7e2737"/><rect x="1357.6" y="434.13" width="6.4" height="9.33" fill="#000"/><rect x="1359.5" y="436.03" width="2.6" height="5.53" fill="#7e2737"/><rect x="1363.96" y="443.46" width="6.4" height="16.14" fill="#000"/><rect x="1365.86" y="445.36" width="2.6" height="12.34" fill="#7e2737"/><rect x="1370.32" y="459.6" width="6.4" height="4.54" fill="#000"/><rect x="1372.22" y="461.5" width="2.6" height="0.74" fill="#7e2737"/><rect x="1376.68" y="443.46" width="6.4" height="20.68" fill="#000"/><rect x="1378.58" y="445.36" width="2.6" height="16.88" fill="#4a9050"/><rect x="1383.04" y="430.59" width="6.4" height="12.61" fill="#000"/><rect x="1384.94" y="432.49" width="2.6" height="8.81" fill="#4a9050"/><rect x="1389.4" y="430.59" width="6.4" height="36.58" fill="#000"/><rect x="1391.3" y="432.49" width="2.6" height="32.78" fill="#7e2737"/><rect x="1395.76" y="459.1" width="6.4" height="8.07" fill="#000"/><rect x="1397.66" y="461" width="2.6" height="4.27" fill="#4a9050"/><rect x="1402.12" y="458.59" width="6.4" height="73.66" fill="#000"/><rect x="1404.02" y="460.49" width="2.6" height="69.86" fill="#7e2737"/><rect x="1408.48" y="532.33" width="6.4" height="13.49" fill="#000"/><rect x="1410.38" y="534.23" width="2.6" height="9.69" fill="#7e2737"/><rect x="1414.84" y="545.83" width="6.4" height="11.1" fill="#000"/><rect x="1416.74" y="547.73" width="2.6" height="7.3" fill="#7e2737"/><rect x="1421.2" y="557.24" width="6.4" height="53.6" fill="#000"/><rect x="1423.1" y="559.14" width="2.6" height="49.8" fill="#7e2737"/><rect x="1427.56" y="610.85" width="6.4" height="30.31" fill="#000"/><rect x="1429.46" y="612.75" width="2.6" height="26.51" fill="#7e2737"/><rect x="1433.93" y="632.02" width="6.4" height="9.14" fill="#000"/><rect x="1435.83" y="633.92" width="2.6" height="5.34" fill="#4a9050"/><rect x="1440.29" y="632.02" width="6.4" height="10.02" fill="#000"/><rect x="1442.19" y="633.92" width="2.6" height="6.22" fill="#7e2737"/><rect x="1446.65" y="596.95" width="6.4" height="45.09" fill="#000"/><rect x="1448.55" y="598.85" width="2.6" height="41.29" fill="#4a9050"/><rect x="1453.01" y="596.95" width="6.4" height="24.42" fill="#000"/><rect x="1454.91" y="598.85" width="2.6" height="20.62" fill="#7e2737"/><rect x="1459.37" y="612.6" width="6.4" height="8.77" fill="#000"/><rect x="1461.27" y="614.5" width="2.6" height="4.97" fill="#4a9050"/><rect x="1465.73" y="612.6" width="6.4" height="20.04" fill="#000"/><rect x="1467.63" y="614.5" width="2.6" height="16.24" fill="#7e2737"/><rect x="1472.09" y="630.97" width="6.4" height="2.6" fill="#000"/><rect x="1478.45" y="621.37" width="6.4" height="11.02" fill="#000"/><rect x="1480.35" y="623.27" width="2.6" height="7.22" fill="#4a9050"/><rect x="1484.81" y="621.37" width="6.4" height="26.3" fill="#000"/><rect x="1486.71" y="623.27" width="2.6" height="22.5" fill="#7e2737"/><rect x="1491.17" y="647.67" width="6.4" height="23.55" fill="#000"/><rect x="1493.07" y="649.57" width="2.6" height="19.75" fill="#7e2737"/><rect x="1497.53" y="662.07" width="6.4" height="8.89" fill="#000"/><rect x="1499.43" y="663.97" width="2.6" height="5.09" fill="#4a9050"/><rect x="1503.89" y="662.07" width="6.4" height="6.39" fill="#000"/><rect x="1505.79" y="663.97" width="2.6" height="2.59" fill="#7e2737"/><rect x="1510.25" y="668.46" width="6.4" height="6.39" fill="#000"/><rect x="1512.15" y="670.36" width="2.6" height="2.59" fill="#7e2737"/><rect x="1516.61" y="672.09" width="6.4" height="3.13" fill="#000"/><rect x="1522.98" y="666.46" width="6.4" height="5.64" fill="#000"/><rect x="1524.88" y="668.36" width="2.6" height="1.84" fill="#4a9050"/><rect x="1529.34" y="632.64" width="6.4" height="33.44" fill="#000"/><rect x="1531.24" y="634.54" width="2.6" height="29.64" fill="#4a9050"/><rect x="1535.7" y="603.84" width="6.4" height="28.56" fill="#000"/><rect x="1537.6" y="605.74" width="2.6" height="24.76" fill="#4a9050"/><rect x="1542.06" y="603.84" width="6.4" height="18.16" fill="#000"/><rect x="1543.96" y="605.74" width="2.6" height="14.36" fill="#7e2737"/><rect x="1548.42" y="611.35" width="6.4" height="10.65" fill="#000"/><rect x="1550.32" y="613.25" width="2.6" height="6.85" fill="#4a9050"/><rect x="1554.78" y="599.08" width="6.4" height="12.27" fill="#000"/><rect x="1556.68" y="600.98" width="2.6" height="8.47" fill="#4a9050"/><rect x="1561.14" y="599.08" width="6.4" height="15.66" fill="#000"/><rect x="1563.04" y="600.98" width="2.6" height="11.86" fill="#7e2737"/><rect x="1567.5" y="615.11" width="6.4" height="16.28" fill="#000"/><rect x="1569.4" y="617.01" width="2.6" height="12.48" fill="#7e2737"/></g>
<g><rect x="1689.5" y="630.4" width="2.2" height="2.2" fill="#6b1428"/><rect x="1682.13" y="630.4" width="2.2" height="2.2" fill="#6b1428"/><rect x="1674.77" y="630.4" width="2.2" height="2.2" fill="#6b1428"/><rect x="1667.4" y="630.4" width="2.2" height="2.2" fill="#6b1428"/><rect x="1660.04" y="630.4" width="2.2" height="2.2" fill="#6b1428"/><rect x="1652.67" y="630.4" width="2.2" height="2.2" fill="#6b1428"/><rect x="1645.31" y="630.4" width="2.2" height="2.2" fill="#6b1428"/><rect x="1637.94" y="630.4" width="2.2" height="2.2" fill="#6b1428"/><rect x="1630.58" y="630.4" width="2.2" height="2.2" fill="#6b1428"/><rect x="1623.21" y="630.4" width="2.2" height="2.2" fill="#6b1428"/><rect x="1615.85" y="630.4" width="2.2" height="2.2" fill="#6b1428"/><rect x="1608.48" y="630.4" width="2.2" height="2.2" fill="#6b1428"/><rect x="1601.12" y="630.4" width="2.2" height="2.2" fill="#6b1428"/><rect x="1593.75" y="630.4" width="2.2" height="2.2" fill="#6b1428"/><rect x="1586.39" y="630.4" width="2.2" height="2.2" fill="#6b1428"/><rect x="1579.02" y="630.4" width="2.2" height="2.2" fill="#6b1428"/><rect x="1571.66" y="630.4" width="2.2" height="2.2" fill="#6b1428"/><rect x="1564.29" y="630.4" width="2.2" height="2.2" fill="#6b1428"/><rect x="1556.93" y="630.4" width="2.2" height="2.2" fill="#6b1428"/><rect x="1549.56" y="630.4" width="2.2" height="2.2" fill="#6b1428"/><rect x="1542.2" y="630.4" width="2.2" height="2.2" fill="#6b1428"/><rect x="1534.83" y="630.4" width="2.2" height="2.2" fill="#6b1428"/><rect x="1527.47" y="630.4" width="2.2" height="2.2" fill="#6b1428"/><rect x="1520.1" y="630.4" width="2.2" height="2.2" fill="#6b1428"/><rect x="1512.74" y="630.4" width="2.2" height="2.2" fill="#6b1428"/><rect x="1505.37" y="630.4" width="2.2" height="2.2" fill="#6b1428"/><rect x="1498.01" y="630.4" width="2.2" height="2.2" fill="#6b1428"/><rect x="1490.64" y="630.4" width="2.2" height="2.2" fill="#6b1428"/><rect x="1483.28" y="630.4" width="2.2" height="2.2" fill="#6b1428"/><rect x="1475.91" y="630.4" width="2.2" height="2.2" fill="#6b1428"/><rect x="1468.55" y="630.4" width="2.2" height="2.2" fill="#6b1428"/><rect x="1461.18" y="630.4" width="2.2" height="2.2" fill="#6b1428"/><rect x="1453.82" y="630.4" width="2.2" height="2.2" fill="#6b1428"/><rect x="1446.45" y="630.4" width="2.2" height="2.2" fill="#6b1428"/><rect x="1439.09" y="630.4" width="2.2" height="2.2" fill="#6b1428"/><rect x="1431.72" y="630.4" width="2.2" height="2.2" fill="#6b1428"/><rect x="1424.36" y="630.4" width="2.2" height="2.2" fill="#6b1428"/><rect x="1416.99" y="630.4" width="2.2" height="2.2" fill="#6b1428"/><rect x="1409.63" y="630.4" width="2.2" height="2.2" fill="#6b1428"/><rect x="1402.26" y="630.4" width="2.2" height="2.2" fill="#6b1428"/><rect x="1394.9" y="630.4" width="2.2" height="2.2" fill="#6b1428"/><rect x="1387.53" y="630.4" width="2.2" height="2.2" fill="#6b1428"/><rect x="1380.17" y="630.4" width="2.2" height="2.2" fill="#6b1428"/><rect x="1372.8" y="630.4" width="2.2" height="2.2" fill="#6b1428"/><rect x="1365.44" y="630.4" width="2.2" height="2.2" fill="#6b1428"/><rect x="1358.07" y="630.4" width="2.2" height="2.2" fill="#6b1428"/><rect x="1350.71" y="630.4" width="2.2" height="2.2" fill="#6b1428"/><rect x="1343.34" y="630.4" width="2.2" height="2.2" fill="#6b1428"/><rect x="1335.98" y="630.4" width="2.2" height="2.2" fill="#6b1428"/><rect x="1328.61" y="630.4" width="2.2" height="2.2" fill="#6b1428"/><rect x="1321.25" y="630.4" width="2.2" height="2.2" fill="#6b1428"/><rect x="1313.88" y="630.4" width="2.2" height="2.2" fill="#6b1428"/><rect x="1306.52" y="630.4" width="2.2" height="2.2" fill="#6b1428"/><rect x="1299.15" y="630.4" width="2.2" height="2.2" fill="#6b1428"/><rect x="1291.79" y="630.4" width="2.2" height="2.2" fill="#6b1428"/><rect x="1284.42" y="630.4" width="2.2" height="2.2" fill="#6b1428"/><rect x="1277.06" y="630.4" width="2.2" height="2.2" fill="#6b1428"/><rect x="1269.69" y="630.4" width="2.2" height="2.2" fill="#6b1428"/><rect x="1262.33" y="630.4" width="2.2" height="2.2" fill="#6b1428"/><rect x="1254.96" y="630.4" width="2.2" height="2.2" fill="#6b1428"/><rect x="1247.6" y="630.4" width="2.2" height="2.2" fill="#6b1428"/><rect x="1240.23" y="630.4" width="2.2" height="2.2" fill="#6b1428"/><rect x="1232.87" y="630.4" width="2.2" height="2.2" fill="#6b1428"/><rect x="1225.5" y="630.4" width="2.2" height="2.2" fill="#6b1428"/><rect x="1218.14" y="630.4" width="2.2" height="2.2" fill="#6b1428"/><rect x="1210.77" y="630.4" width="2.2" height="2.2" fill="#6b1428"/><rect x="1203.41" y="630.4" width="2.2" height="2.2" fill="#6b1428"/><rect x="1196.04" y="630.4" width="2.2" height="2.2" fill="#6b1428"/><rect x="1188.68" y="630.4" width="2.2" height="2.2" fill="#6b1428"/><rect x="1181.31" y="630.4" width="2.2" height="2.2" fill="#6b1428"/><rect x="1173.95" y="630.4" width="2.2" height="2.2" fill="#6b1428"/><rect x="1166.58" y="630.4" width="2.2" height="2.2" fill="#6b1428"/><rect x="1159.22" y="630.4" width="2.2" height="2.2" fill="#6b1428"/><rect x="1151.85" y="630.4" width="2.2" height="2.2" fill="#6b1428"/><rect x="1144.49" y="630.4" width="2.2" height="2.2" fill="#6b1428"/><rect x="1137.12" y="630.4" width="2.2" height="2.2" fill="#6b1428"/><rect x="1129.76" y="630.4" width="2.2" height="2.2" fill="#6b1428"/><rect x="1122.39" y="630.4" width="2.2" height="2.2" fill="#6b1428"/><rect x="1115.03" y="630.4" width="2.2" height="2.2" fill="#6b1428"/><rect x="1107.66" y="630.4" width="2.2" height="2.2" fill="#6b1428"/><rect x="1100.3" y="630.4" width="2.2" height="2.2" fill="#6b1428"/><rect x="1092.93" y="630.4" width="2.2" height="2.2" fill="#6b1428"/><rect x="1085.57" y="630.4" width="2.2" height="2.2" fill="#6b1428"/><rect x="1078.2" y="630.4" width="2.2" height="2.2" fill="#6b1428"/><rect x="1070.84" y="630.4" width="2.2" height="2.2" fill="#6b1428"/><rect x="1063.47" y="630.4" width="2.2" height="2.2" fill="#6b1428"/><rect x="1056.11" y="630.4" width="2.2" height="2.2" fill="#6b1428"/><rect x="1048.74" y="630.4" width="2.2" height="2.2" fill="#6b1428"/><rect x="1041.38" y="630.4" width="2.2" height="2.2" fill="#6b1428"/><rect x="1034.01" y="630.4" width="2.2" height="2.2" fill="#6b1428"/><rect x="1026.65" y="630.4" width="2.2" height="2.2" fill="#6b1428"/><rect x="1019.28" y="630.4" width="2.2" height="2.2" fill="#6b1428"/><rect x="1011.92" y="630.4" width="2.2" height="2.2" fill="#6b1428"/><rect x="1004.55" y="630.4" width="2.2" height="2.2" fill="#6b1428"/><rect x="997.19" y="630.4" width="2.2" height="2.2" fill="#6b1428"/><rect x="989.82" y="630.4" width="2.2" height="2.2" fill="#6b1428"/><rect x="982.46" y="630.4" width="2.2" height="2.2" fill="#6b1428"/><rect x="975.09" y="630.4" width="2.2" height="2.2" fill="#6b1428"/><rect x="967.73" y="630.4" width="2.2" height="2.2" fill="#6b1428"/><rect x="960.36" y="630.4" width="2.2" height="2.2" fill="#6b1428"/><rect x="953" y="630.4" width="2.2" height="2.2" fill="#6b1428"/><rect x="945.63" y="630.4" width="2.2" height="2.2" fill="#6b1428"/><rect x="938.27" y="630.4" width="2.2" height="2.2" fill="#6b1428"/><rect x="930.9" y="630.4" width="2.2" height="2.2" fill="#6b1428"/><rect x="923.54" y="630.4" width="2.2" height="2.2" fill="#6b1428"/><rect x="916.17" y="630.4" width="2.2" height="2.2" fill="#6b1428"/><rect x="908.81" y="630.4" width="2.2" height="2.2" fill="#6b1428"/><rect x="901.44" y="630.4" width="2.2" height="2.2" fill="#6b1428"/><rect x="894.08" y="630.4" width="2.2" height="2.2" fill="#6b1428"/><rect x="886.71" y="630.4" width="2.2" height="2.2" fill="#6b1428"/><rect x="879.35" y="630.4" width="2.2" height="2.2" fill="#6b1428"/><rect x="871.98" y="630.4" width="2.2" height="2.2" fill="#6b1428"/><rect x="864.62" y="630.4" width="2.2" height="2.2" fill="#6b1428"/><rect x="857.25" y="630.4" width="2.2" height="2.2" fill="#6b1428"/><rect x="849.89" y="630.4" width="2.2" height="2.2" fill="#6b1428"/><rect x="842.52" y="630.4" width="2.2" height="2.2" fill="#6b1428"/><rect x="835.16" y="630.4" width="2.2" height="2.2" fill="#6b1428"/><rect x="827.79" y="630.4" width="2.2" height="2.2" fill="#6b1428"/><rect x="820.43" y="630.4" width="2.2" height="2.2" fill="#6b1428"/><rect x="813.06" y="630.4" width="2.2" height="2.2" fill="#6b1428"/><rect x="805.7" y="630.4" width="2.2" height="2.2" fill="#6b1428"/><rect x="798.33" y="630.4" width="2.2" height="2.2" fill="#6b1428"/><rect x="790.97" y="630.4" width="2.2" height="2.2" fill="#6b1428"/><rect x="783.6" y="630.4" width="2.2" height="2.2" fill="#6b1428"/><rect x="776.24" y="630.4" width="2.2" height="2.2" fill="#6b1428"/><rect x="768.87" y="630.4" width="2.2" height="2.2" fill="#6b1428"/><rect x="761.51" y="630.4" width="2.2" height="2.2" fill="#6b1428"/><rect x="754.14" y="630.4" width="2.2" height="2.2" fill="#6b1428"/><rect x="746.78" y="630.4" width="2.2" height="2.2" fill="#6b1428"/><rect x="739.41" y="630.4" width="2.2" height="2.2" fill="#6b1428"/><rect x="732.05" y="630.4" width="2.2" height="2.2" fill="#6b1428"/><rect x="724.68" y="630.4" width="2.2" height="2.2" fill="#6b1428"/><rect x="717.32" y="630.4" width="2.2" height="2.2" fill="#6b1428"/><rect x="709.95" y="630.4" width="2.2" height="2.2" fill="#6b1428"/><rect x="702.59" y="630.4" width="2.2" height="2.2" fill="#6b1428"/><rect x="695.22" y="630.4" width="2.2" height="2.2" fill="#6b1428"/><rect x="687.86" y="630.4" width="2.2" height="2.2" fill="#6b1428"/><rect x="680.49" y="630.4" width="2.2" height="2.2" fill="#6b1428"/><rect x="673.13" y="630.4" width="2.2" height="2.2" fill="#6b1428"/><rect x="665.76" y="630.4" width="2.2" height="2.2" fill="#6b1428"/><rect x="658.4" y="630.4" width="2.2" height="2.2" fill="#6b1428"/><rect x="651.03" y="630.4" width="2.2" height="2.2" fill="#6b1428"/><rect x="643.67" y="630.4" width="2.2" height="2.2" fill="#6b1428"/><rect x="636.3" y="630.4" width="2.2" height="2.2" fill="#6b1428"/><rect x="628.94" y="630.4" width="2.2" height="2.2" fill="#6b1428"/><rect x="621.57" y="630.4" width="2.2" height="2.2" fill="#6b1428"/><rect x="614.21" y="630.4" width="2.2" height="2.2" fill="#6b1428"/><rect x="606.84" y="630.4" width="2.2" height="2.2" fill="#6b1428"/><rect x="599.48" y="630.4" width="2.2" height="2.2" fill="#6b1428"/><rect x="592.11" y="630.4" width="2.2" height="2.2" fill="#6b1428"/><rect x="584.75" y="630.4" width="2.2" height="2.2" fill="#6b1428"/><rect x="577.38" y="630.4" width="2.2" height="2.2" fill="#6b1428"/><rect x="570.02" y="630.4" width="2.2" height="2.2" fill="#6b1428"/><rect x="562.65" y="630.4" width="2.2" height="2.2" fill="#6b1428"/><rect x="555.29" y="630.4" width="2.2" height="2.2" fill="#6b1428"/><rect x="547.92" y="630.4" width="2.2" height="2.2" fill="#6b1428"/><rect x="540.56" y="630.4" width="2.2" height="2.2" fill="#6b1428"/><rect x="533.19" y="630.4" width="2.2" height="2.2" fill="#6b1428"/><rect x="525.83" y="630.4" width="2.2" height="2.2" fill="#6b1428"/><rect x="518.46" y="630.4" width="2.2" height="2.2" fill="#6b1428"/><rect x="511.1" y="630.4" width="2.2" height="2.2" fill="#6b1428"/><rect x="503.73" y="630.4" width="2.2" height="2.2" fill="#6b1428"/><rect x="496.37" y="630.4" width="2.2" height="2.2" fill="#6b1428"/><rect x="489" y="630.4" width="2.2" height="2.2" fill="#6b1428"/><rect x="481.64" y="630.4" width="2.2" height="2.2" fill="#6b1428"/><rect x="474.27" y="630.4" width="2.2" height="2.2" fill="#6b1428"/><rect x="466.91" y="630.4" width="2.2" height="2.2" fill="#6b1428"/><rect x="459.54" y="630.4" width="2.2" height="2.2" fill="#6b1428"/><rect x="452.18" y="630.4" width="2.2" height="2.2" fill="#6b1428"/><rect x="444.81" y="630.4" width="2.2" height="2.2" fill="#6b1428"/><rect x="437.45" y="630.4" width="2.2" height="2.2" fill="#6b1428"/><rect x="430.08" y="630.4" width="2.2" height="2.2" fill="#6b1428"/><rect x="422.72" y="630.4" width="2.2" height="2.2" fill="#6b1428"/><rect x="415.35" y="630.4" width="2.2" height="2.2" fill="#6b1428"/><rect x="407.99" y="630.4" width="2.2" height="2.2" fill="#6b1428"/><rect x="400.62" y="630.4" width="2.2" height="2.2" fill="#6b1428"/><rect x="393.26" y="630.4" width="2.2" height="2.2" fill="#6b1428"/><rect x="385.89" y="630.4" width="2.2" height="2.2" fill="#6b1428"/><rect x="378.53" y="630.4" width="2.2" height="2.2" fill="#6b1428"/><rect x="371.16" y="630.4" width="2.2" height="2.2" fill="#6b1428"/><rect x="363.8" y="630.4" width="2.2" height="2.2" fill="#6b1428"/><rect x="356.43" y="630.4" width="2.2" height="2.2" fill="#6b1428"/><rect x="349.07" y="630.4" width="2.2" height="2.2" fill="#6b1428"/><rect x="341.7" y="630.4" width="2.2" height="2.2" fill="#6b1428"/><rect x="334.34" y="630.4" width="2.2" height="2.2" fill="#6b1428"/><rect x="326.97" y="630.4" width="2.2" height="2.2" fill="#6b1428"/><rect x="319.61" y="630.4" width="2.2" height="2.2" fill="#6b1428"/><rect x="312.24" y="630.4" width="2.2" height="2.2" fill="#6b1428"/><rect x="304.88" y="630.4" width="2.2" height="2.2" fill="#6b1428"/><rect x="297.51" y="630.4" width="2.2" height="2.2" fill="#6b1428"/><rect x="290.15" y="630.4" width="2.2" height="2.2" fill="#6b1428"/><rect x="282.78" y="630.4" width="2.2" height="2.2" fill="#6b1428"/><rect x="275.42" y="630.4" width="2.2" height="2.2" fill="#6b1428"/><rect x="268.05" y="630.4" width="2.2" height="2.2" fill="#6b1428"/><rect x="260.69" y="630.4" width="2.2" height="2.2" fill="#6b1428"/><rect x="253.32" y="630.4" width="2.2" height="2.2" fill="#6b1428"/><rect x="245.96" y="630.4" width="2.2" height="2.2" fill="#6b1428"/><rect x="238.59" y="630.4" width="2.2" height="2.2" fill="#6b1428"/><rect x="231.23" y="630.4" width="2.2" height="2.2" fill="#6b1428"/><rect x="223.86" y="630.4" width="2.2" height="2.2" fill="#6b1428"/><rect x="216.5" y="630.4" width="2.2" height="2.2" fill="#6b1428"/><rect x="209.13" y="630.4" width="2.2" height="2.2" fill="#6b1428"/><rect x="201.77" y="630.4" width="2.2" height="2.2" fill="#6b1428"/><rect x="194.4" y="630.4" width="2.2" height="2.2" fill="#6b1428"/><rect x="187.04" y="630.4" width="2.2" height="2.2" fill="#6b1428"/><rect x="179.67" y="630.4" width="2.2" height="2.2" fill="#6b1428"/><rect x="172.31" y="630.4" width="2.2" height="2.2" fill="#6b1428"/><rect x="164.94" y="630.4" width="2.2" height="2.2" fill="#6b1428"/><rect x="157.58" y="630.4" width="2.2" height="2.2" fill="#6b1428"/><rect x="150.21" y="630.4" width="2.2" height="2.2" fill="#6b1428"/><rect x="142.85" y="630.4" width="2.2" height="2.2" fill="#6b1428"/><rect x="135.48" y="630.4" width="2.2" height="2.2" fill="#6b1428"/><rect x="128.12" y="630.4" width="2.2" height="2.2" fill="#6b1428"/><rect x="120.75" y="630.4" width="2.2" height="2.2" fill="#6b1428"/><rect x="113.39" y="630.4" width="2.2" height="2.2" fill="#6b1428"/><rect x="106.02" y="630.4" width="2.2" height="2.2" fill="#6b1428"/><rect x="98.66" y="630.4" width="2.2" height="2.2" fill="#6b1428"/><rect x="91.29" y="630.4" width="2.2" height="2.2" fill="#6b1428"/><rect x="83.93" y="630.4" width="2.2" height="2.2" fill="#6b1428"/><rect x="76.56" y="630.4" width="2.2" height="2.2" fill="#6b1428"/><rect x="69.2" y="630.4" width="2.2" height="2.2" fill="#6b1428"/><rect x="61.83" y="630.4" width="2.2" height="2.2" fill="#6b1428"/><rect x="54.47" y="630.4" width="2.2" height="2.2" fill="#6b1428"/><rect x="47.1" y="630.4" width="2.2" height="2.2" fill="#6b1428"/><rect x="39.74" y="630.4" width="2.2" height="2.2" fill="#6b1428"/><rect x="32.37" y="630.4" width="2.2" height="2.2" fill="#6b1428"/><rect x="25.01" y="630.4" width="2.2" height="2.2" fill="#6b1428"/></g>
<circle cx="1570.4" cy="862.9" r="23.8" fill="none" stroke="#9b2bb0" stroke-width="3.6"/>
<polygon points="1576.6,850 1578.2,851.4 1571.5,861.9 1580.7,862 1563.9,876.2 1562.4,874.8 1569.7,864 1560.2,864" fill="#9b2bb0"/>
</g>
<g clip-path="url(#axis)">
<g font-size="29" fill="#0c0c0c">
<text transform="translate(1899.9,199.1) scale(1.14,1)" textLength="87.02" lengthAdjust="spacing">320.00</text>
</g>
<g font-size="29" fill="#0c0c0c">
<text transform="translate(1899.9,285.2) scale(1.14,1)" textLength="87.02" lengthAdjust="spacing">270.00</text>
</g>
<g font-size="29" fill="#0c0c0c">
<text transform="translate(1899.9,366.47) scale(1.14,1)" textLength="87.02" lengthAdjust="spacing">230.00</text>
</g>
<g font-size="29" fill="#0c0c0c">
<text transform="translate(1899.9,463.29) scale(1.14,1)" textLength="87.02" lengthAdjust="spacing">190.00</text>
</g>
<g font-size="29" fill="#0c0c0c">
<text transform="translate(1899.9,550.39) scale(1.14,1)" textLength="87.02" lengthAdjust="spacing">160.00</text>
</g>
<g font-size="29" fill="#0c0c0c">
<text transform="translate(1899.9,740.28) scale(1.14,1)" textLength="87.02" lengthAdjust="spacing">110.00</text>
</g>
<g font-size="29" fill="#0c0c0c">
<text transform="translate(1898.3,819.94) scale(1.14,1)" textLength="71.23" lengthAdjust="spacing">94.00</text>
</g>
<g font-size="29" fill="#0c0c0c">
<text transform="translate(1898.3,901.67) scale(1.14,1)" textLength="71.23" lengthAdjust="spacing">80.00</text>
</g>
</g>
<path d="M1878.5,397.3 H2009 A4.5,4.5 0 0 1 2013.5,401.8 V434 A4.5,4.5 0 0 1 2009,438.5 H1878.5 V397.3 Z" fill="#b82534"/>
<g font-size="29" fill="#ffffff">
<text transform="translate(1901.1,428.6) scale(1.14,1)" textLength="84.91" lengthAdjust="spacing">203.52</text>
</g>
<path d="M1696.7,610.9 H1876 V651.7 H1696.7 A4.5,4.5 0 0 1 1692.2,647.2 V615.4 A4.5,4.5 0 0 1 1696.7,610.9 Z" fill="#871a26"/>
<g font-size="29" fill="#ffffff">
<text transform="translate(1703,643.3) scale(1.03,1)" textLength="158.25" lengthAdjust="spacingAndGlyphs">SOLUSDT.P</text>
</g>
<path d="M1878.5,610.9 H2009 A4.5,4.5 0 0 1 2013.5,615.4 V647.4 A4.5,4.5 0 0 1 2009,651.9 H1878.5 V610.9 Z" fill="#871a26"/>
<g font-size="29" fill="#ffffff">
<text transform="translate(1901.1,643.3) scale(1.14,1)" textLength="84.21" lengthAdjust="spacing">133.47</text>
</g>
<path d="M1878.5,651.9 H2009 A4.5,4.5 0 0 1 2013.5,656.4 V689.5 A4.5,4.5 0 0 1 2009,694 H1878.5 V651.9 Z" fill="#b82534"/>
<g font-size="29" fill="#ffffff">
<text transform="translate(1901.1,684.6) scale(1.14,1)" textLength="84.91" lengthAdjust="spacing">126.54</text>
</g>
<g font-size="28.5" fill="#0c0c0c">
<text transform="translate(80.7,940.2) scale(1.05,1)" textLength="50.1" lengthAdjust="spacing">Mar</text>
<text transform="translate(211.7,940.2) scale(1.05,1)" textLength="55.33" lengthAdjust="spacing">May</text>
<text transform="translate(348.2,940.2) scale(1.05,1)" textLength="38.19" lengthAdjust="spacing">Jul</text>
<text transform="translate(474.2,940.2) scale(1.05,1)" textLength="50.57" lengthAdjust="spacing">Sep</text>
<text transform="translate(601.7,940.2) scale(1.05,1)" textLength="51.52" lengthAdjust="spacing">Nov</text>
<text transform="translate(856.7,940.2) scale(1.05,1)" textLength="50.1" lengthAdjust="spacing">Mar</text>
<text transform="translate(981.7,940.2) scale(1.05,1)" textLength="54.86" lengthAdjust="spacing">May</text>
<text transform="translate(1123.2,940.2) scale(1.05,1)" textLength="38.67" lengthAdjust="spacing">Jul</text>
<text transform="translate(1244.2,940.2) scale(1.05,1)" textLength="50.57" lengthAdjust="spacing">Sep</text>
<text transform="translate(1377.2,940.2) scale(1.05,1)" textLength="51.52" lengthAdjust="spacing">Nov</text>
<text transform="translate(1632.2,940.2) scale(1.05,1)" textLength="50.1" lengthAdjust="spacing">Mar</text>
<text transform="translate(1757.2,940.2) scale(1.05,1)" textLength="54.86" lengthAdjust="spacing">May</text>
</g>
<g font-size="28.5" fill="#0c0c0c" font-weight="bold">
<text transform="translate(716.7,940.2) scale(1.12,1)" textLength="69.73" lengthAdjust="spacing">2025</text>
<text transform="translate(1493.2,940.2) scale(1.12,1)" textLength="69.29" lengthAdjust="spacing">2026</text>
</g>
<path d="M30,1017 H59.3 V1053.8 H44.5 V1031.3 H30 Z" fill="#dcdcdc"/>
<circle cx="70.8" cy="1023.9" r="7" fill="#dcdcdc"/>
<path d="M85.8,1017 H102.6 L88.8,1053.8 H71.3 Z" fill="#dcdcdc"/>
<text x="119" y="1053.8" font-size="51" font-weight="bold" fill="#dcdcdc" textLength="299" lengthAdjust="spacing">TradingView</text>
</svg>
</body></html>
